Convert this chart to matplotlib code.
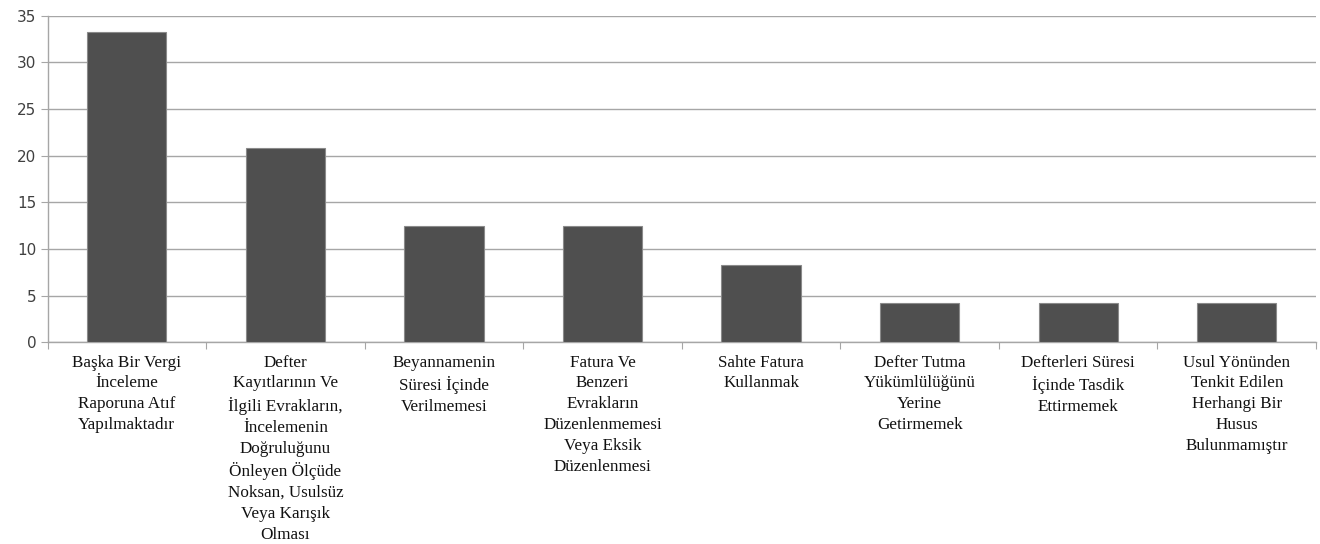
import matplotlib
matplotlib.use("Agg")
import matplotlib.pyplot as plt
import numpy as np

categories = [
    "Başka Bir Vergi\nİnceleme\nRaporuna Atıf\nYapılmaktadır",
    "Defter\nKayıtlarının Ve\nİlgili Evrakların,\nİncelemenin\nDoğruluğunu\nÖnleyen Ölçüde\nNoksan, Usulsüz\nVeya Karışık\nOlması",
    "Beyannamenin\nSüresi İçinde\nVerilmemesi",
    "Fatura Ve\nBenzeri\nEvrakların\nDüzenlenmemesi\nVeya Eksik\nDüzenlenmesi",
    "Sahte Fatura\nKullanmak",
    "Defter Tutma\nYükümlülüğünü\nYerine\nGetirmemek",
    "Defterleri Süresi\nİçinde Tasdik\nEttirmemek",
    "Usul Yönünden\nTenkit Edilen\nHerhangi Bir\nHusus\nBulunmamıştır",
]
values = [33.3, 20.8, 12.5, 12.5, 8.3, 4.2, 4.2, 4.2]
yticks = [0, 5, 10, 15, 20, 25, 30, 35]

fig = plt.figure(figsize=(13.2, 5.44), dpi=100)
ax = fig.add_axes([0.036, 0.371, 0.961, 0.600])

x = np.arange(len(categories))
ax.bar(x, values, width=0.5, color="#4f4f4f", edgecolor="#8a8a8a", linewidth=0.8, zorder=3)

ax.set_xlim(-0.5, len(categories) - 0.5)
ax.set_ylim(0, 35)
ax.set_yticks(yticks)
ax.yaxis.grid(True, color="#a6a6a6", linewidth=1.0, zorder=0)

# ticks between categories, labels at centres
ax.set_xticks(np.arange(-0.5, len(categories), 1.0))
ax.set_xticklabels([])
ax.set_xticks(x, minor=True)
ax.set_xticklabels(categories, minor=True, fontfamily="Liberation Serif",
                   fontsize=12.3, linespacing=1.4, va="top", color="#111111")
ax.tick_params(axis="x", which="minor", length=0, pad=9)
ax.tick_params(axis="x", which="major", length=5, color="#a6a6a6", direction="out")
ax.tick_params(axis="y", length=5, color="#a6a6a6", labelsize=11,
               labelcolor="#404040", pad=3)

for s in ["top", "right"]:
    ax.spines[s].set_visible(False)
for s in ["left", "bottom"]:
    ax.spines[s].set_color("#a6a6a6")
    ax.spines[s].set_linewidth(1.0)

fig.savefig("out.png", dpi=100)
